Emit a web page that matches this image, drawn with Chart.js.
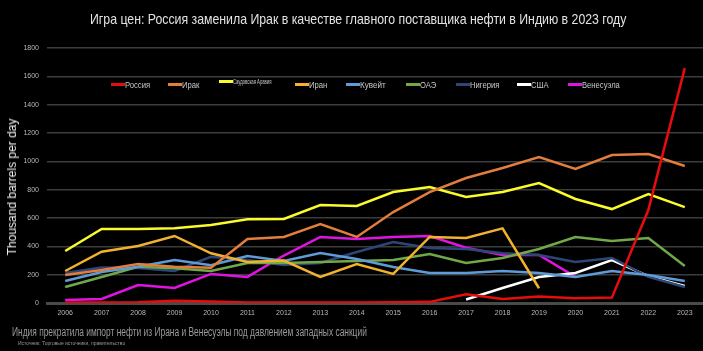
<!DOCTYPE html>
<html>
<head>
<meta charset="utf-8">
<title>Игра цен</title>
<style>
    body { margin: 0; background: #000; }
    .wrap {
        position: relative;
        width: 703px;
        height: 351px;
        background: #000;
        overflow: hidden;
        font-family: "Liberation Sans", Arial, sans-serif;
    }
    #chart { position: absolute; left: 0; top: 0; }
    /* no narrow font installed, so squeeze the text horizontally */
    .narrow { display: inline-block; transform-origin: 0 50%; white-space: nowrap; }
    .title {
        position: absolute; top: 10px; left: 90px;
        color: #e2e2e2; font-size: 15px; transform: scaleX(0.82);
    }
    .ytitle {
        position: absolute; left: 12px; top: 187px;
        transform: translate(-50%, -50%) rotate(-90deg);
        white-space: nowrap; color: #f0f0f0; font-size: 12px;
    }
    .note { position: absolute; left: 12px; top: 325px; color: #9a9a9a; font-size: 12px; transform: scaleX(0.7); }
    .source { position: absolute; left: 18px; top: 340px; color: #9a9a9a; font-size: 6px; transform: scaleX(0.83); }
    .legend .item { position: absolute; top: 79px; height: 12px; white-space: nowrap; color: #c8c8c8; font-size: 9px; }
    .legend .swatch { display: inline-block; width: 14px; height: 3px; vertical-align: middle; }
    .legend .narrow { vertical-align: middle; }
</style>
<script src="https://cdn.jsdelivr.net/npm/chart.js"></script>
</head>
<body>
<div class="wrap">
    <canvas id="chart" width="703" height="351"></canvas>
    <div class="title narrow">Игра цен: Россия заменила Ирак в качестве главного поставщика нефти в Индию в 2023 году</div>
    <div class="ytitle">Thousand barrels per day</div>
    <div class="legend" id="legend"></div>
    <div class="note narrow">Индия прекратила импорт нефти из Ирана и Венесуэлы под давлением западных санкций</div>
    <div class="source narrow">Источник: Торговые источники, правительство</div>
</div>
<script>
    // data (thousand barrels per day)
    const years = ['2006', '2007', '2008', '2009', '2010', '2011', '2012', '2013', '2014',
                   '2015', '2016', '2017', '2018', '2019', '2020', '2021', '2022', '2023'];
    const yTicks = [0, 200, 400, 600, 800, 1000, 1200, 1400, 1600, 1800];

    const russia    = [3, 3, 5, 15, 10, 3, 3, 3, 3, 5, 8, 62, 28, 45, 33, 38, 656, 1658];
    const iraq      = [198, 233, 275, 256, 249, 452, 466, 557, 466, 642, 783, 882, 953, 1030, 946, 1044, 1051, 967];
    const saudi     = [367, 522, 522, 527, 550, 591, 593, 692, 685, 783, 819, 748, 783, 847, 734, 663, 769, 677];
    const iran      = [226, 362, 402, 473, 351, 290, 300, 184, 275, 205, 466, 459, 527, 104, null, null, null, null];
    const kuwait    = [155, 219, 256, 303, 266, 331, 296, 353, 310, 254, 212, 212, 226, 212, 184, 226, 198, 155];
    const uae       = [113, 184, 256, 245, 226, 282, 282, 289, 296, 303, 346, 282, 318, 381, 466, 438, 459, 261];
    const nigeria   = [212, 251, 247, 226, 326, 303, 268, 282, 360, 430, 388, 381, 352, 339, 290, 318, 185, 113];
    const usa       = [null, null, null, null, null, null, null, null, null, null, null, 25, 106, 183, 212, 303, 190, 120];
    const venezuela = [21, 28, 127, 106, 205, 184, 335, 466, 452, 466, 473, 390, 339, 339, 184, null, null, null];

    const series = [
        { label: 'Россия',             data: russia,    color: '#e80c0c', left: 111, squeeze: 0.85 },
        { label: 'Ирак',               data: iraq,      color: '#e27d3c', left: 168, squeeze: 0.85 },
        { label: 'Саудовская Аравия',  data: saudi,     color: '#fafa2c', left: 219, squeeze: 0.6, size: 7 },
        { label: 'Иран',               data: iran,      color: '#f2b22e', left: 295, squeeze: 0.85 },
        { label: 'Кувейт',             data: kuwait,    color: '#5f9bd6', left: 346, squeeze: 0.9 },
        { label: 'ОАЭ',                data: uae,       color: '#70a948', left: 406, squeeze: 0.85 },
        { label: 'Нигерия',            data: nigeria,   color: '#2c4777', left: 456, squeeze: 0.85 },
        { label: 'США',                data: usa,       color: '#ffffff', left: 517, squeeze: 0.85 },
        { label: 'Венесуэла',          data: venezuela, color: '#e014e0', left: 568, squeeze: 0.85 }
    ];

    // legend sits inside the plot, so build it by hand
    const legend = document.getElementById('legend');
    series.forEach(s => {
        const item = document.createElement('div');
        item.className = 'item';
        item.style.left = s.left + 'px';
        if (s.size) { item.style.fontSize = s.size + 'px'; item.style.top = '77px'; }
        item.innerHTML = '<span class="swatch" style="background:' + s.color + '"></span>' +
            '<span class="narrow" style="transform:scaleX(' + s.squeeze + ')">' + s.label + '</span>';
        legend.appendChild(item);
    });

    const ctx = document.getElementById('chart').getContext('2d');
    new Chart(ctx, {
        type: 'line',
        data: {
            labels: years,
            datasets: series.map(s => ({
                label: s.label,
                data: s.data,
                borderColor: s.color,
                backgroundColor: s.color,
                borderWidth: 2.5,
                pointRadius: 0,
                tension: 0,
                spanGaps: false
            }))
        },
        options: {
            responsive: false,
            animation: false,
            layout: { padding: { top: 48, left: 0, right: 0, bottom: 0 } },
            plugins: {
                legend: { display: false },
                tooltip: { enabled: false }
            },
            scales: {
                x: {
                    offset: true,
                    grid: { display: false, drawTicks: false },
                    border: { display: true, color: '#4a4a4a', width: 3 },
                    ticks: { color: '#b8b8b8', font: { size: 7 }, padding: 6, maxRotation: 0, autoSkip: false },
                    afterFit: scale => { scale.height = 48; }
                },
                y: {
                    min: 0,
                    max: 1800,
                    afterBuildTicks: scale => { scale.ticks = yTicks.map(v => ({ value: v })); },
                    grid: { color: '#3c3c3c', lineWidth: 1.5, drawTicks: false },
                    border: { display: false },
                    ticks: { color: '#b8b8b8', font: { size: 7 }, padding: 8, callback: v => String(v) },
                    afterFit: scale => { scale.width = 47; }
                }
            }
        }
    });
</script>
</body>
</html>
